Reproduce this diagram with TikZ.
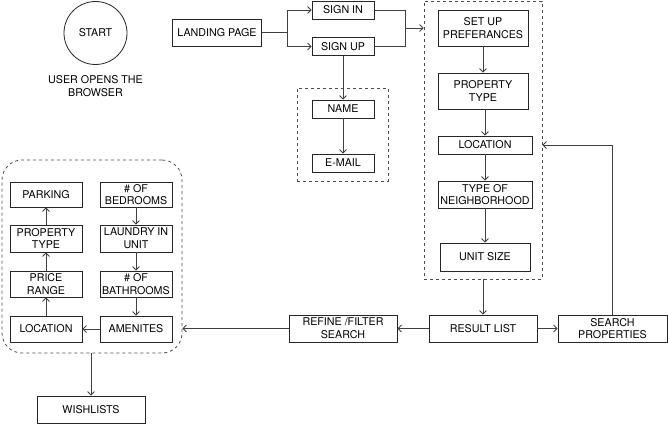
\documentclass[tikz,border=0pt]{standalone}
\usepackage{fontspec}
\setmainfont{TeX Gyre Heros}
\usetikzlibrary{arrows.meta}
\begin{document}
\begin{tikzpicture}[x=1pt, y=-1pt, >={Straight Barb[length=3.5pt,width=7pt]}]
            \tikzstyle{box}=[draw=black!85, thick, inner sep=0pt, align=center, font=\fontsize{10.7}{12.7}\selectfont]
            \tikzstyle{group}=[draw=black!70, dashed, thick, inner sep=0pt]
            \tikzstyle{link}=[black!75, thick]
            \useasboundingbox (0, 0) rectangle (668, 425);
            % start
            \node [box, circle, minimum size=63] (start) at (95.5, 33) {START};
            \node [align=center, font=\fontsize{10.7}{12.7}\selectfont] (opens) at (95.5, 86) {USER OPENS THE\\BROWSER};
            % login
            \node [box, minimum width=89, minimum height=27] (landing) at (217, 32.5) {LANDING PAGE};
            \node [box, minimum width=62, minimum height=18] (signin) at (343, 10) {SIGN IN};
            \node [box, minimum width=62, minimum height=18] (signup) at (343, 46.5) {SIGN UP};
            \node [group, minimum width=91, minimum height=93] (details) at (342.5, 134.5) {};
            \node [box, minimum width=62, minimum height=18] (name) at (343, 109) {NAME};
            \node [box, minimum width=62, minimum height=18] (email) at (343, 163) {E-MAIL};
            \coordinate (split) at (287, 32.5);
            \coordinate (merge) at (405, 28);
            \draw [link] (landing.east) -- (split);
            \draw [link, ->] (split) |- (signin.west);
            \draw [link, ->] (split) |- (signup.west);
            \draw [link] (signin.east) -| (merge);
            \draw [link] (signup.east) -| (merge);
            \draw [link, ->] (signup.south) -- (name.north);
            \draw [link, ->] (name.south) -- (email.north);
            % preferences
            \node [group, minimum width=118, minimum height=278] (prefs) at (483, 140) {};
            \draw [link, ->] (merge) -- (prefs.west |- merge);
            \node [box, minimum width=90, minimum height=36] (setup) at (483, 28) {SET UP\\PREFERANCES};
            \node [box, minimum width=90, minimum height=36] (ptype) at (483, 91) {PROPERTY\\TYPE};
            \node [box, minimum width=94, minimum height=18] (loc) at (485, 145) {LOCATION};
            \node [box, minimum width=94, minimum height=27] (hood) at (485, 194.5) {TYPE OF\\NEIGHBORHOOD};
            \node [box, minimum width=90, minimum height=28] (usize) at (485, 257) {UNIT SIZE};
            \draw [link, ->] (setup) -- (ptype);
            \draw [link, ->] (ptype.south -| loc.north) -- (loc.north);
            \draw [link, ->] (loc) -- (hood);
            \draw [link, ->] (hood) -- (usize);
            % results
            \node [box, minimum width=108, minimum height=27] (result) at (483, 328.5) {RESULT LIST};
            \node [box, minimum width=108, minimum height=27] (refine) at (343, 328.5) {REFINE /FILTER\\SEARCH};
            \node [box, minimum width=109, minimum height=27] (search) at (612.5, 328.5) {SEARCH\\PROPERTIES};
            \draw [link, ->] (prefs.south) -- (result.north);
            \draw [link, ->] (result) -- (refine);
            \draw [link, ->] (result) -- (search);
            \draw [link, ->] (search.north) |- (prefs.east |- loc.east);
            % filters
            \node [group, rounded corners=20, minimum width=180, minimum height=193] (filters) at (92, 256.5) {};
            \node [box, minimum width=72, minimum height=25] (parking) at (46, 194.5) {PARKING};
            \node [box, minimum width=72, minimum height=27] (ftype) at (46, 238.5) {PROPERTY\\TYPE};
            \node [box, minimum width=72, minimum height=26] (price) at (46, 284) {PRICE\\RANGE};
            \node [box, minimum width=72, minimum height=26] (floc) at (46, 329) {LOCATION};
            \node [box, minimum width=72, minimum height=25] (bed) at (136, 194.5) {\# OF\\BEDROOMS};
            \node [box, minimum width=72, minimum height=27] (laundry) at (136, 238.5) {LAUNDRY IN\\UNIT};
            \node [box, minimum width=72, minimum height=26] (bath) at (136, 284) {\# OF\\BATHROOMS};
            \node [box, minimum width=72, minimum height=26] (amen) at (136, 329) {AMENITES};
            \draw [link, ->] (bed) -- (laundry);
            \draw [link, ->] (laundry) -- (bath);
            \draw [link, ->] (bath) -- (amen);
            \draw [link, ->] (amen) -- (floc);
            \draw [link, ->] (floc) -- (price);
            \draw [link, ->] (price) -- (ftype);
            \draw [link, ->] (ftype) -- (parking);
            \draw [link, ->] (refine.west) -- (filters.east |- refine.west);
            % wishlist
            \node [box, minimum width=108, minimum height=27] (wish) at (91, 409.5) {WISHLISTS};
            \draw [link, ->] (filters.south -| wish.north) -- (wish.north);
        \end{tikzpicture}
\end{document}
